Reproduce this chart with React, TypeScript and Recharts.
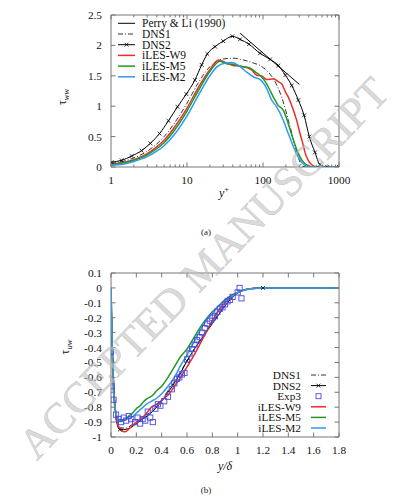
import { LineChart, ComposedChart, Line, XAxis, YAxis, ReferenceArea } from "recharts";

const FONT = "'Liberation Serif', 'Times New Roman', serif";
const AX = "#777";
const RED = "#ee2c2c";
const GREEN = "#229922";
const BLUE = "#3399ee";
const EXP = "#4a4ae0";

// plot edges (page px), used for mirrored inward ticks
const PLOT_R = 339;
const PLOT_T = 15;

// ---- (a) tau_ww vs y+ ----
const perryYp = [50, 300];
const perryTau = [2.2, 1.36];

const dns1Yp = [1, 1.5, 2, 3, 4, 5, 7, 10, 14, 20, 28, 40, 55, 75, 91, 115, 137, 158, 176, 196, 215, 235, 252, 272, 292, 323, 360, 1000];
const dns1Tau = [0.06, 0.1, 0.15, 0.26, 0.38, 0.5, 0.74, 1.05, 1.38, 1.65, 1.77, 1.79, 1.76, 1.71, 1.67, 1.57, 1.45, 1.3, 1.15, 0.96, 0.77, 0.6, 0.44, 0.29, 0.16, 0.02, 0, 0];

const dns2Yp = [1.02, 1.38, 1.87, 2.53, 3.3, 4.35, 5.7, 7.5, 9.8, 12.7, 15.6, 18.5, 23.4, 30, 39.5, 49.8, 65.4, 91.3, 124, 159, 197, 239, 292, 347, 407, 483, 562, 700, 1000];
const dns2Tau = [0.08, 0.11, 0.18, 0.27, 0.39, 0.55, 0.76, 0.99, 1.2, 1.43, 1.68, 1.86, 1.98, 2.07, 2.15, 2.1, 2.02, 1.87, 1.77, 1.67, 1.51, 1.34, 1.1, 0.85, 0.5, 0.24, 0.04, 0, 0];

const w9Yp = [1, 1.5, 2, 3, 4, 5, 7, 10, 14, 20, 26, 32, 40, 55, 70, 83, 95, 112, 137, 160, 176, 200, 215, 252, 280, 307, 335, 357, 397, 456, 520, 1000];
const w9Tau = [0.05, 0.08, 0.12, 0.22, 0.33, 0.44, 0.67, 0.97, 1.3, 1.6, 1.76, 1.72, 1.67, 1.65, 1.6, 1.51, 1.5, 1.44, 1.45, 1.4, 1.37, 1.22, 1.15, 0.93, 0.75, 0.55, 0.38, 0.24, 0.1, 0.02, 0, 0];

const m5Yp = [1, 1.5, 2, 3, 4, 5, 7, 10, 14, 20, 27, 33, 40, 55, 67, 80, 91, 105, 117, 137, 159, 185, 200, 215, 252, 292, 330, 380, 456, 1000];
const m5Tau = [0.04, 0.07, 0.11, 0.2, 0.3, 0.4, 0.62, 0.92, 1.25, 1.57, 1.74, 1.7, 1.69, 1.65, 1.63, 1.56, 1.51, 1.42, 1.32, 1.15, 1.01, 0.93, 0.83, 0.71, 0.44, 0.22, 0.1, 0.03, 0, 0];

const m2Yp = [1, 1.5, 2, 3, 4, 5, 7, 10, 14, 20, 25, 32, 39, 50, 61, 75, 91, 112, 130, 151, 185, 215, 252, 292, 339, 400, 1000];
const m2Tau = [0.03, 0.05, 0.09, 0.17, 0.26, 0.35, 0.55, 0.84, 1.17, 1.5, 1.65, 1.71, 1.72, 1.65, 1.56, 1.48, 1.44, 1.29, 1.1, 0.99, 0.77, 0.55, 0.33, 0.16, 0.05, 0, 0];

const logTicks = [1, 2, 3, 4, 5, 6, 7, 8, 9, 10, 20, 30, 40, 50, 60, 70, 80, 90, 100, 200, 300, 400, 500, 600, 700, 800, 900, 1000];
const logMajor = [1, 10, 100, 1000];
const topYTicks = [0, 0.5, 1, 1.5, 2, 2.5];

// ---- (b) tau_uw vs y/delta ----
const dns1Yd = [0, 0.01, 0.02, 0.035, 0.05, 0.08, 0.12, 0.16, 0.2, 0.25, 0.3, 0.35, 0.4, 0.45, 0.5, 0.55, 0.6, 0.65, 0.7, 0.75, 0.8, 0.85, 0.9, 0.95, 1.0, 1.05, 1.1, 1.2, 1.8];
const dns1Uw = [0, -0.38, -0.62, -0.83, -0.91, -0.94, -0.94, -0.92, -0.9, -0.87, -0.84, -0.8, -0.75, -0.69, -0.63, -0.56, -0.49, -0.42, -0.35, -0.29, -0.23, -0.17, -0.11, -0.06, -0.03, -0.012, -0.004, 0, 0];

const dns2Yd = [0, 0.01, 0.02, 0.035, 0.05, 0.07, 0.1, 0.15, 0.2, 0.25, 0.3, 0.35, 0.4, 0.45, 0.5, 0.55, 0.6, 0.65, 0.7, 0.75, 0.8, 0.85, 0.9, 0.95, 1.0, 1.05, 1.1, 1.2, 1.4, 1.6, 1.8];
const dns2Uw = [0, -0.35, -0.6, -0.82, -0.92, -0.95, -0.95, -0.94, -0.91, -0.88, -0.85, -0.81, -0.76, -0.7, -0.64, -0.57, -0.49, -0.42, -0.36, -0.3, -0.24, -0.18, -0.12, -0.07, -0.035, -0.015, -0.005, 0, 0, 0, 0];
const dns2MarkYd = [0.07, 0.6, 1.2];

const expYd = [0, 0.005, 0.02, 0.04, 0.06, 0.08, 0.1, 0.12, 0.14, 0.16, 0.19, 0.21, 0.23, 0.25, 0.27, 0.29, 0.31, 0.33, 0.35, 0.37, 0.39, 0.42, 0.45, 0.48, 0.5, 0.52, 0.54, 0.56, 0.58, 0.6, 0.62, 0.64, 0.66, 0.68, 0.7, 0.72, 0.74, 0.76, 0.78, 0.8, 0.82, 0.84, 0.86, 0.88, 0.9, 0.92, 0.94, 0.96, 1.0, 1.015, 1.03];
const expUw = [-0.43, -0.66, -0.75, -0.85, -0.88, -0.9, -0.87, -0.89, -0.86, -0.88, -0.9, -0.87, -0.91, -0.88, -0.89, -0.83, -0.87, -0.9, -0.81, -0.78, -0.79, -0.76, -0.73, -0.68, -0.64, -0.61, -0.6, -0.58, -0.57, -0.48, -0.44, -0.41, -0.38, -0.35, -0.33, -0.3, -0.27, -0.24, -0.22, -0.2, -0.19, -0.16, -0.14, -0.13, -0.11, -0.09, -0.08, -0.06, -0.03, 0.0, -0.07];

const w9Yd = [0, 0.01, 0.02, 0.04, 0.06, 0.08, 0.11, 0.13, 0.16, 0.2, 0.23, 0.26, 0.29, 0.32, 0.35, 0.38, 0.42, 0.46, 0.5, 0.55, 0.6, 0.65, 0.7, 0.75, 0.8, 0.85, 0.9, 0.95, 1.0, 1.05, 1.1, 1.2, 1.8];
const w9Uw = [0, -0.4, -0.65, -0.86, -0.93, -0.955, -0.965, -0.955, -0.93, -0.9, -0.88, -0.86, -0.83, -0.8, -0.785, -0.77, -0.74, -0.71, -0.66, -0.6, -0.53, -0.46, -0.38, -0.3, -0.22, -0.15, -0.1, -0.06, -0.03, -0.015, -0.005, 0, 0];

const m5Yd = [0, 0.01, 0.02, 0.04, 0.06, 0.085, 0.11, 0.14, 0.17, 0.2, 0.23, 0.26, 0.29, 0.33, 0.36, 0.4, 0.45, 0.5, 0.55, 0.6, 0.65, 0.7, 0.75, 0.8, 0.85, 0.9, 0.95, 1.0, 1.05, 1.1, 1.2, 1.8];
const m5Uw = [0, -0.45, -0.7, -0.85, -0.89, -0.895, -0.88, -0.86, -0.84, -0.81, -0.79, -0.76, -0.74, -0.72, -0.69, -0.66, -0.6, -0.53, -0.46, -0.41, -0.34, -0.27, -0.21, -0.16, -0.12, -0.08, -0.05, -0.03, -0.015, -0.005, 0, 0];

const m2Yd = [0, 0.01, 0.02, 0.04, 0.06, 0.09, 0.12, 0.16, 0.2, 0.24, 0.28, 0.32, 0.36, 0.4, 0.45, 0.5, 0.55, 0.6, 0.65, 0.7, 0.75, 0.8, 0.85, 0.9, 0.95, 1.0, 1.05, 1.1, 1.2, 1.8];
const m2Uw = [0, -0.4, -0.68, -0.84, -0.88, -0.89, -0.88, -0.87, -0.84, -0.81, -0.78, -0.76, -0.74, -0.71, -0.66, -0.6, -0.52, -0.45, -0.37, -0.29, -0.22, -0.17, -0.12, -0.09, -0.06, -0.03, -0.015, -0.005, 0, 0];

const botXTicks = [0, 0.2, 0.4, 0.6, 0.8, 1, 1.2, 1.4, 1.6, 1.8];
const botYTicks = [0.1, 0, -0.1, -0.2, -0.3, -0.4, -0.5, -0.6, -0.7, -0.8, -0.9, -1];

const pts = (xs: number[], ys: number[]) => xs.map((x, i) => ({ x, y: ys[i] }));

const crossPath = (cx: number, cy: number, r = 1.9) =>
  `M${cx - r},${cy - r}L${cx + r},${cy + r}M${cx - r},${cy + r}L${cx + r},${cy - r}`;

const CrossDot = (p: any) => {
  if (p.cx == null || p.cy == null) return <g key={p.key} />;
  return <path key={p.key} d={crossPath(p.cx, p.cy)} stroke="#000" strokeWidth={0.8} fill="none" />;
};

const SparseCross = (p: any) => {
  if (p.cx == null || !dns2MarkYd.includes(p.payload?.x)) return <g key={p.key} />;
  return <path key={p.key} d={crossPath(p.cx, p.cy)} stroke="#000" strokeWidth={0.8} fill="none" />;
};

const SquareDot = (p: any) => {
  if (p.cx == null || p.cy == null) return <g key={p.key} />;
  return (
    <rect key={p.key} x={p.cx - 2.6} y={p.cy - 2.6} width={5.2} height={5.2} fill="none" stroke={EXP} strokeWidth={0.9} />
  );
};

// inward ticks on bottom + top edges
const XTick = (p: any) => {
  const { x, y, payload, major } = p;
  const v = payload.value;
  const isMajor = major ? major.includes(v) : true;
  const len = isMajor ? 4.5 : 2.5;
  return (
    <g>
      <line x1={x} y1={y} x2={x} y2={y - len} stroke={AX} />
      <line x1={x} y1={PLOT_T} x2={x} y2={PLOT_T + len} stroke={AX} />
      {isMajor && (
        <text x={x} y={y + 17} textAnchor="middle" fontFamily={FONT} fontSize={11.3} fill="#111">
          {v}
        </text>
      )}
    </g>
  );
};

// inward ticks on left + right edges
const YTick = (p: any) => {
  const { x, y, payload } = p;
  return (
    <g>
      <line x1={x} y1={y} x2={x + 4.5} y2={y} stroke={AX} />
      <line x1={PLOT_R} y1={y} x2={PLOT_R - 4.5} y2={y} stroke={AX} />
      <text x={x - 9} y={y + 4} textAnchor="end" fontFamily={FONT} fontSize={11.3} fill="#111">
        {payload.value}
      </text>
    </g>
  );
};

function TopChart() {
  return (
    <LineChart width={412} height={200} margin={{ top: 15, right: 73, bottom: 0, left: 0 }}>
      <ReferenceArea x1={1} x2={1000} y1={0} y2={2.5} fill="none" stroke={AX} strokeWidth={1} ifOverflow="visible" />
      <XAxis
        dataKey="x"
        type="number"
        scale="log"
        domain={[1, 1000]}
        allowDataOverflow
        ticks={logTicks}
        interval={0}
        height={33}
        axisLine={false}
        tickLine={false}
        tickSize={0}
        tickMargin={0}
        tick={<XTick major={logMajor} />}
      />
      <YAxis
        type="number"
        domain={[0, 2.5]}
        allowDataOverflow
        ticks={topYTicks}
        interval={0}
        width={111}
        axisLine={false}
        tickLine={false}
        tickSize={0}
        tickMargin={0}
        tick={<YTick />}
      />
      <Line data={pts(perryYp, perryTau)} dataKey="y" type="linear" stroke="#000" strokeWidth={1} dot={false} isAnimationActive={false} />
      <Line data={pts(dns1Yp, dns1Tau)} dataKey="y" type="monotone" stroke="#000" strokeWidth={0.8} strokeDasharray="5 2 1 2" dot={false} isAnimationActive={false} />
      <Line data={pts(dns2Yp, dns2Tau)} dataKey="y" type="monotone" stroke="#000" strokeWidth={1} dot={CrossDot} isAnimationActive={false} />
      <Line data={pts(w9Yp, w9Tau)} dataKey="y" type="monotone" stroke={RED} strokeWidth={1.5} dot={false} isAnimationActive={false} />
      <Line data={pts(m5Yp, m5Tau)} dataKey="y" type="monotone" stroke={GREEN} strokeWidth={1.5} dot={false} isAnimationActive={false} />
      <Line data={pts(m2Yp, m2Tau)} dataKey="y" type="monotone" stroke={BLUE} strokeWidth={1.5} dot={false} isAnimationActive={false} />
    </LineChart>
  );
}

function BottomChart() {
  return (
    <ComposedChart width={412} height={200} margin={{ top: 15, right: 73, bottom: 0, left: 0 }}>
      <ReferenceArea x1={0} x2={1.8} y1={-1} y2={0.1} fill="none" stroke={AX} strokeWidth={1} ifOverflow="visible" />
      <XAxis
        dataKey="x"
        type="number"
        domain={[0, 1.8]}
        allowDataOverflow
        ticks={botXTicks}
        interval={0}
        height={21}
        axisLine={false}
        tickLine={false}
        tickSize={0}
        tickMargin={0}
        tick={<XTick />}
      />
      <YAxis
        type="number"
        domain={[-1, 0.1]}
        allowDataOverflow
        ticks={botYTicks}
        interval={0}
        width={111}
        axisLine={false}
        tickLine={false}
        tickSize={0}
        tickMargin={0}
        tick={<YTick />}
      />
      <Line data={pts(dns1Yd, dns1Uw)} dataKey="y" type="monotone" stroke="#000" strokeWidth={0.8} strokeDasharray="5 2 1 2" dot={false} isAnimationActive={false} />
      <Line data={pts(dns2Yd, dns2Uw)} dataKey="y" type="monotone" stroke="#000" strokeWidth={1} dot={SparseCross} isAnimationActive={false} />
      <Line data={pts(expYd, expUw)} dataKey="y" stroke="none" dot={SquareDot} isAnimationActive={false} />
      <Line data={pts(w9Yd, w9Uw)} dataKey="y" type="monotone" stroke={RED} strokeWidth={1.5} dot={false} isAnimationActive={false} />
      <Line data={pts(m5Yd, m5Uw)} dataKey="y" type="monotone" stroke={GREEN} strokeWidth={1.5} dot={false} isAnimationActive={false} />
      <Line data={pts(m2Yd, m2Uw)} dataKey="y" type="monotone" stroke={BLUE} strokeWidth={1.5} dot={false} isAnimationActive={false} />
    </ComposedChart>
  );
}

const topLegend = [
  { name: "Perry & Li (1990)", color: "#000", dash: undefined, w: 1, mark: "" },
  { name: "DNS1", color: "#000", dash: "5 2 1 2", w: 0.8, mark: "" },
  { name: "DNS2", color: "#000", dash: undefined, w: 1, mark: "x" },
  { name: "iLES-W9", color: RED, dash: undefined, w: 1.5, mark: "" },
  { name: "iLES-M5", color: GREEN, dash: undefined, w: 1.5, mark: "" },
  { name: "iLES-M2", color: BLUE, dash: undefined, w: 1.5, mark: "" },
];

const botLegend = [
  { name: "DNS1", color: "#000", dash: "5 2 1 2", w: 0.8, mark: "" },
  { name: "DNS2", color: "#000", dash: undefined, w: 1, mark: "x" },
  { name: "Exp3", color: EXP, dash: undefined, w: 0, mark: "sq" },
  { name: "iLES-W9", color: RED, dash: undefined, w: 1.5, mark: "" },
  { name: "iLES-M5", color: GREEN, dash: undefined, w: 1.5, mark: "" },
  { name: "iLES-M2", color: BLUE, dash: undefined, w: 1.5, mark: "" },
];

function Overlay() {
  return (
    <svg width={412} height={499} style={{ position: "absolute", left: 0, top: 0, pointerEvents: "none" }}>
      {/* legend (a) */}
      {topLegend.map((e, i) => {
        const cy = 23.3 + i * 10.7;
        return (
          <g key={e.name}>
            <line x1={118} x2={135} y1={cy} y2={cy} stroke={e.color} strokeWidth={e.w} strokeDasharray={e.dash} />
            {e.mark === "x" && <path d={crossPath(126.5, cy)} stroke="#000" strokeWidth={0.8} />}
            <text x={142} y={cy + 4} fontFamily={FONT} fontSize={11.5} fill="#111">{e.name}</text>
          </g>
        );
      })}
      {/* legend (b) */}
      {botLegend.map((e, i) => {
        const cy = 375 + i * 10.6;
        return (
          <g key={e.name}>
            {e.w > 0 && <line x1={311} x2={326} y1={cy} y2={cy} stroke={e.color} strokeWidth={e.w} strokeDasharray={e.dash} />}
            {e.mark === "x" && <path d={crossPath(318.5, cy)} stroke="#000" strokeWidth={0.8} />}
            {e.mark === "sq" && <rect x={316} y={cy - 2.5} width={5} height={5} fill="none" stroke={EXP} strokeWidth={0.9} />}
            <text x={301} y={cy + 4} textAnchor="end" fontFamily={FONT} fontSize={11.3} fill="#111">{e.name}</text>
          </g>
        );
      })}
      {/* axis titles */}
      <text transform="translate(66,97) rotate(-90)" textAnchor="middle" fontFamily={FONT} fontSize={12} fill="#111">
        τ<tspan fontSize={8.5} fontStyle="italic" dy={3}>ww</tspan>
      </text>
      <text transform="translate(69,347) rotate(-90)" textAnchor="middle" fontFamily={FONT} fontSize={12} fill="#111">
        τ<tspan fontSize={8.5} fontStyle="italic" dy={3}>uw</tspan>
      </text>
      <text x={224} y={197} textAnchor="middle" fontFamily={FONT} fontSize={12} fill="#111">
        <tspan fontStyle="italic">y</tspan>
        <tspan fontSize={8.5} dy={-5}>+</tspan>
      </text>
      <text x={225} y={470} textAnchor="middle" fontFamily={FONT} fontSize={12} fontStyle="italic" fill="#111">
        y/δ
      </text>
      <text x={206} y={235} textAnchor="middle" fontFamily={FONT} fontSize={9} fill="#222">(a)</text>
      <text x={206} y={493} textAnchor="middle" fontFamily={FONT} fontSize={9} fill="#222">(b)</text>
      {/* watermark */}
      <text
        x={214}
        y={278}
        transform="rotate(-46 214 278)"
        textAnchor="middle"
        fontFamily={FONT}
        fontSize={43}
        fill="#c2c2c2"
        fillOpacity={0.6}
        stroke="#9a9a9a"
        strokeOpacity={0.45}
        strokeWidth={0.5}
      >
        ACCEPTED MANUSCRIPT
      </text>
    </svg>
  );
}

export default function App() {
  return (
    <div style={{ position: "absolute", left: 0, top: 0, width: 412, height: 499, background: "#fff", fontFamily: FONT }}>
      <div style={{ position: "absolute", left: 0, top: 0 }}>
        <TopChart />
      </div>
      <div style={{ position: "absolute", left: 0, top: 258 }}>
        <BottomChart />
      </div>
      <Overlay />
    </div>
  );
}
